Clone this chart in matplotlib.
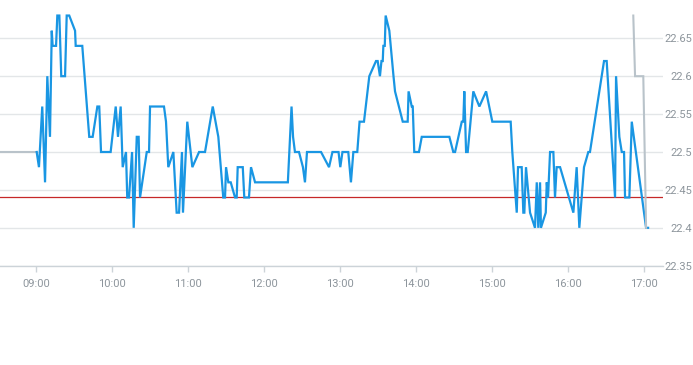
import matplotlib
matplotlib.use("Agg")
import matplotlib.pyplot as plt

# ---- data (minutes after 09:00, price) ----
blue_minutes = [
    0.3, 2.1, 4.7, 6.9, 8.7, 10.8, 12.2, 12.9, 15.6, 16.6,
    18.2, 19.7, 22.7, 24.0, 26.0, 30.6, 31.1, 36.3, 41.8, 44.5,
    48.2, 49.7, 51.1, 58.7, 62.7, 64.5, 66.6, 68.2, 70.8, 71.8,
    73.2, 75.6, 76.9, 79.3, 80.8, 81.9, 87.2, 89.0, 89.8, 100.8,
    102.4, 104.2, 108.2, 110.8, 112.7, 115.0, 115.8, 119.2, 123.2, 128.5,
    133.2, 139.3, 143.7, 147.6, 149.0, 149.8, 151.6, 153.5, 156.9, 158.2,
    159.0, 163.0, 164.2, 167.9, 169.5, 172.7, 198.6, 201.5, 202.7, 204.2,
    207.4, 210.5, 212.1, 213.7, 224.8, 231.1, 233.8, 238.6, 240.0, 241.7,
    246.3, 248.4, 250.3, 253.4, 255.2, 258.7, 262.9, 268.2, 269.5, 271.3,
    272.5, 273.5, 274.0, 275.1, 275.8, 278.7, 282.0, 283.2, 289.3, 293.2,
    293.9, 296.4, 297.2, 298.4, 302.1, 304.3, 326.1, 329.2, 330.6, 335.9,
    337.1, 337.9, 339.3, 340.6, 345.0, 349.8, 355.1, 360.0, 374.5, 375.8,
    379.3, 380.3, 383.2, 384.5, 385.3, 386.6, 389.8, 393.7, 395.1, 396.3,
    397.7, 398.4, 402.2, 403.0, 404.0, 405.6, 408.2, 409.5, 410.8, 413.5,
    424.0, 426.6, 428.7, 432.4, 435.8, 437.1, 448.2, 450.3,
    456.9, 457.7, 460.3, 462.2, 464.0, 464.8, 468.2, 470.1, 481.4, 483.0,
]
blue_values = [
    22.50, 22.48, 22.56, 22.46, 22.60, 22.52, 22.66, 22.64, 22.64, 22.68,
    22.68, 22.60, 22.60, 22.68, 22.68, 22.66, 22.64, 22.64, 22.52, 22.52,
    22.56, 22.56, 22.50, 22.50, 22.56, 22.52, 22.56, 22.48, 22.50, 22.44,
    22.44, 22.50, 22.40, 22.52, 22.52, 22.44, 22.50, 22.50, 22.56, 22.56,
    22.54, 22.48, 22.50, 22.42, 22.42, 22.50, 22.42, 22.54, 22.48, 22.50,
    22.50, 22.56, 22.52, 22.44, 22.44, 22.48, 22.46, 22.46, 22.44, 22.44,
    22.48, 22.48, 22.44, 22.44, 22.48, 22.46, 22.46, 22.56, 22.52, 22.50,
    22.50, 22.48, 22.46, 22.50, 22.50, 22.48, 22.50, 22.50, 22.48, 22.50,
    22.50, 22.46, 22.50, 22.50, 22.54, 22.54, 22.60, 22.62, 22.62, 22.60,
    22.62, 22.62, 22.64, 22.64, 22.68, 22.66, 22.60, 22.58, 22.54, 22.54,
    22.58, 22.56, 22.56, 22.50, 22.50, 22.52, 22.52, 22.50, 22.50, 22.54,
    22.54, 22.58, 22.50, 22.50, 22.58, 22.56, 22.58, 22.54, 22.54, 22.50,
    22.42, 22.48, 22.48, 22.42, 22.42, 22.48, 22.42, 22.40, 22.46, 22.40,
    22.46, 22.40, 22.42, 22.46, 22.44, 22.50, 22.50, 22.44, 22.48, 22.48,
    22.42, 22.48, 22.40, 22.48, 22.50, 22.50, 22.62, 22.62,
    22.44, 22.60, 22.52, 22.50, 22.50, 22.44, 22.44, 22.54, 22.40, 22.40,
]
pre_minutes = [-35.0, 0.3]
pre_values = [22.50, 22.50]
post_minutes = [471.3, 472.7, 479.2, 481.4]
post_values = [22.68, 22.60, 22.60, 22.40]
reference_level = 22.44

hour_ticks = [9, 10, 11, 12, 13, 14, 15, 16, 17]
hour_labels = ["09:00", "10:00", "11:00", "12:00", "13:00", "14:00", "15:00", "16:00", "17:00"]
y_ticks = [22.35, 22.40, 22.45, 22.50, 22.55, 22.60, 22.65]
y_labels = ["22.35", "22.4", "22.45", "22.5", "22.55", "22.6", "22.65"]

assert len(blue_minutes) == len(blue_values)

def to_hours(mins):
    return [9 + m / 60.0 for m in mins]

plt.rcParams['font.family'] = ['Roboto', 'DejaVu Sans']

fig = plt.figure(figsize=(6.93, 3.65), dpi=100)
ax = fig.add_axes([0.0, 0.272, 663 / 693, 0.728])

grid_c = "#e3e6e8"
for yv in y_ticks:
    ax.axhline(yv, color=grid_c, lw=1.0, zorder=1)

ax.axhline(reference_level, color="#c62828", lw=0.9, zorder=2)

ax.plot(to_hours(pre_minutes), pre_values, color="#b9c3ca", lw=1.5, zorder=3,
        solid_joinstyle="miter")
ax.plot(to_hours(blue_minutes), blue_values, color="#1996e3", lw=1.6, zorder=4,
        solid_joinstyle="miter")
ax.plot(to_hours(post_minutes), post_values, color="#b9c3ca", lw=1.5, zorder=5,
        solid_joinstyle="miter")

ax.set_xlim(8.5224, 17.246)
ax.set_ylim(22.35, 22.7005)

for s in ["left", "right", "top"]:
    ax.spines[s].set_visible(False)
ax.spines["bottom"].set_color("#ccd3d8")
ax.spines["bottom"].set_linewidth(1.0)

label_c = "#8d959c"
ax.set_xticks(to_hours([(h - 9) * 60 for h in hour_ticks]))
ax.set_xticklabels(hour_labels)
ax.tick_params(axis="x", length=4, width=1, color="#ccd3d8", pad=5.5,
               labelsize=8, labelcolor=label_c)

ax.yaxis.tick_right()
ax.set_yticks(y_ticks)
ax.set_yticklabels(y_labels)
ax.tick_params(axis="y", length=0, pad=21, labelsize=8, labelcolor=label_c)
for lab in ax.get_yticklabels():
    lab.set_horizontalalignment("right")

fig.savefig("out.png", dpi=100)
